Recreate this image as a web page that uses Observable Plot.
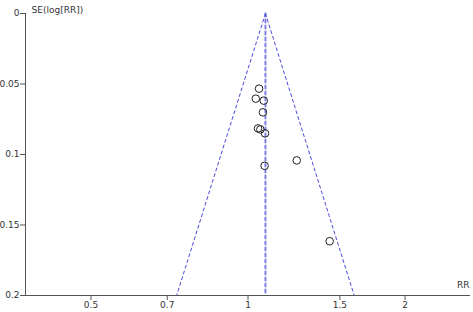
<!DOCTYPE html>
<html>
<head>
<meta charset="utf-8">
<script src="https://cdn.jsdelivr.net/npm/d3@7"></script>
<script src="https://cdn.jsdelivr.net/npm/@observablehq/plot@0.6"></script>
<style>
  html, body { margin: 0; padding: 0; background: #fff; }
  svg { display: block; }
</style>
</head>
<body>
<div id="chart"></div>
<script>
// Study estimates
const rr = [1.050, 1.035, 1.072, 1.068, 1.045, 1.056, 1.078, 1.240, 1.076, 1.434];
const se = [0.0533, 0.0604, 0.0618, 0.0701, 0.0815, 0.0822, 0.0850, 0.1042, 0.1080, 0.1615];
const pooledRR = 1.08;
const seMax = 0.2;
const xTicks = [0.5, 0.7, 1, 1.5, 2];
const yTicks = [0, 0.05, 0.1, 0.15, 0.2];
const xLabel = "RR";
const yLabel = "SE(log[RR])";

const points = rr.map((r, i) => ({rr: r, se: se[i]}));
const z = 1.96;
const funnelLeft = [
  {rr: pooledRR, se: 0},
  {rr: Math.exp(Math.log(pooledRR) - z * seMax), se: seMax}
];
const funnelRight = [
  {rr: pooledRR, se: 0},
  {rr: Math.exp(Math.log(pooledRR) + z * seMax), se: seMax}
];
const center = [{rr: pooledRR, se: 0}, {rr: pooledRR, se: seMax}];
const xMin = 0.3745, xMax = 2.67;

const blue = "#4a4ad8";
const axisColor = "#555";

const chart = Plot.plot({
  width: 473,
  height: 312,
  marginLeft: 25,
  marginRight: 3,
  marginTop: 13,
  marginBottom: 17,
  style: {fontFamily: "DejaVu Sans", fontSize: "9px", color: "#333", background: "#fff"},
  x: {type: "log", domain: [xMin, xMax]},
  y: {domain: [0, seMax], reverse: true},
  marks: [
    Plot.line(funnelLeft, {x: "rr", y: "se", stroke: blue, strokeDasharray: "3,3", strokeWidth: 1}),
    Plot.line(funnelRight, {x: "rr", y: "se", stroke: blue, strokeDasharray: "3,3", strokeWidth: 1}),
    Plot.line(center, {x: "rr", y: "se", stroke: blue, strokeOpacity: 0.7, strokeDasharray: "3,3", strokeWidth: 2}),
    Plot.dot(points, {x: "rr", y: "se", r: 3.8, stroke: "#222", fill: "none", strokeWidth: 1}),
    Plot.ruleY([seMax], {stroke: axisColor}),
    Plot.ruleX([xMin], {stroke: axisColor}),
    Plot.axisX({ticks: xTicks, tickFormat: d => String(d), tickSize: 5, tickPadding: 1, stroke: axisColor, label: null}),
    Plot.axisY({ticks: yTicks, tickFormat: d => String(d), tickSize: 5, tickPadding: 1, stroke: axisColor, label: null}),
    Plot.text([yLabel], {frameAnchor: "top-left", dx: 6, dy: -7, textAnchor: "start", fill: "#333"}),
    Plot.text([xLabel], {frameAnchor: "bottom-right", dx: -1, dy: -8, textAnchor: "end", fill: "#333"})
  ]
});
document.getElementById("chart").appendChild(chart);
</script>
</body>
</html>
